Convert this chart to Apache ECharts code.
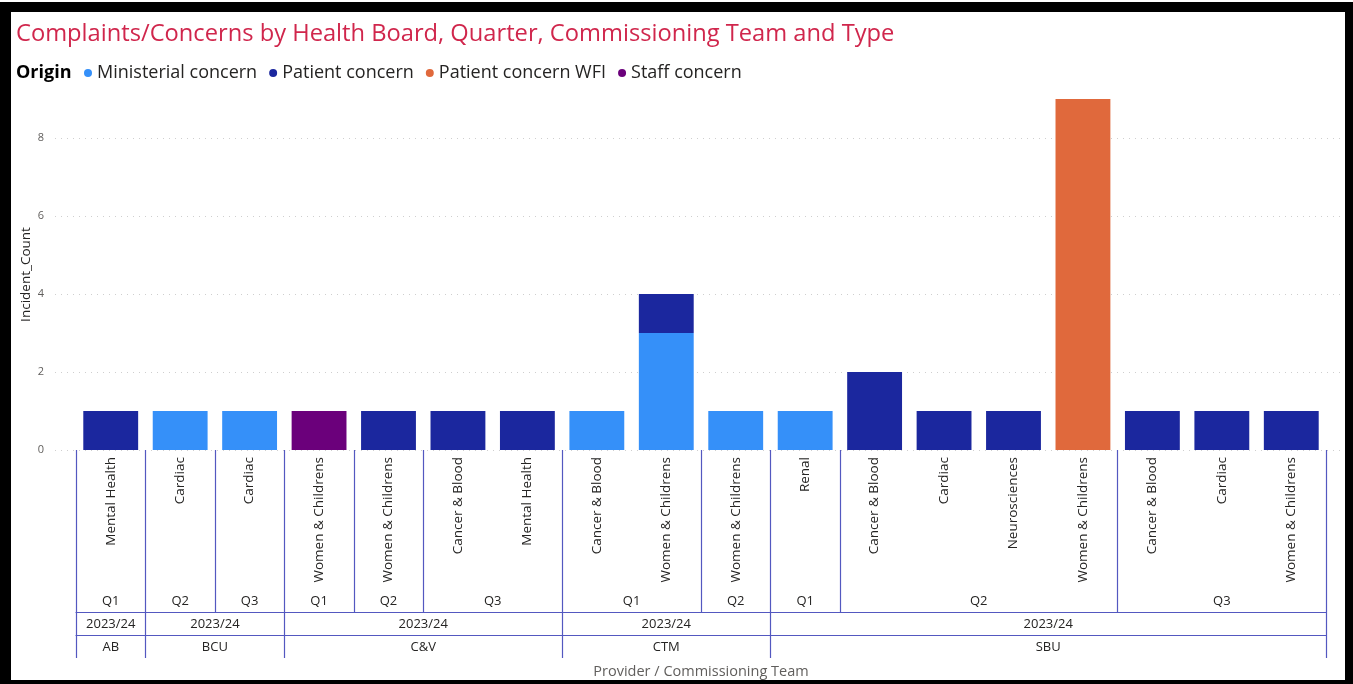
<!DOCTYPE html>
<html>
<head>
<meta charset="utf-8">
<script src="https://cdn.jsdelivr.net/npm/echarts@6/dist/echarts.min.js"></script>
<style>
  html, body { margin: 0; padding: 0; background: #fff; }
  #frame { position: absolute; left: 0; top: 2px; width: 1353px; height: 682px; background: #000; }
  #paper { position: absolute; left: 11px; top: 12px; width: 1334px; height: 668px; background: #fff; }
  #chart { position: absolute; left: 0; top: 0; width: 1353px; height: 684px; }
</style>
</head>
<body>
<div id="frame"></div>
<div id="paper"></div>
<div id="chart"></div>
<script>
// one entry per bar, left to right
const providers = ['AB', 'BCU', 'BCU', 'C&V', 'C&V', 'C&V', 'C&V', 'CTM', 'CTM', 'CTM',
    'SBU', 'SBU', 'SBU', 'SBU', 'SBU', 'SBU', 'SBU', 'SBU'];
const years = ['2023/24', '2023/24', '2023/24', '2023/24', '2023/24', '2023/24', '2023/24', '2023/24', '2023/24',
    '2023/24', '2023/24', '2023/24', '2023/24', '2023/24', '2023/24', '2023/24', '2023/24', '2023/24'];
const quarters = ['Q1', 'Q2', 'Q3', 'Q1', 'Q2', 'Q3', 'Q3', 'Q1', 'Q1', 'Q2',
    'Q1', 'Q2', 'Q2', 'Q2', 'Q2', 'Q3', 'Q3', 'Q3'];
const teams = ['Mental Health', 'Cardiac', 'Cardiac', 'Women & Childrens', 'Women & Childrens',
    'Cancer & Blood', 'Mental Health', 'Cancer & Blood', 'Women & Childrens', 'Women & Childrens',
    'Renal', 'Cancer & Blood', 'Cardiac', 'Neurosciences', 'Women & Childrens',
    'Cancer & Blood', 'Cardiac', 'Women & Childrens'];

const ministerial = [0, 1, 1, 0, 0, 0, 0, 1, 3, 1, 1, 0, 0, 0, 0, 0, 0, 0];
const patient = [1, 0, 0, 0, 1, 1, 1, 0, 1, 0, 0, 2, 1, 1, 0, 1, 1, 1];
const patientWFI = [0, 0, 0, 0, 0, 0, 0, 0, 0, 0, 0, 0, 0, 0, 9, 0, 0, 0];
const staff = [0, 0, 0, 1, 0, 0, 0, 0, 0, 0, 0, 0, 0, 0, 0, 0, 0, 0];

const yTicks = [0, 2, 4, 6, 8];

const FONT = "'Segoe UI', 'Open Sans', sans-serif";
const LINE = '#5358c0';

// group consecutive bars sharing the same key; return label slots and boundaries
// on a half-step axis (2 slots per bar, so group centres land on a point)
function groupAxis(keyFn, labelFn) {
    const n = teams.length;
    const data = new Array(2 * n + 1).fill('');
    const bounds = new Set();
    let start = 0;
    for (let i = 1; i <= n; i++) {
        if (i === n || keyFn(i) !== keyFn(start)) {
            data[start + i] = labelFn(start);
            bounds.add(2 * start);
            bounds.add(2 * i);
            start = i;
        }
    }
    return { data, bounds };
}

const qGroups = groupAxis(i => providers[i] + years[i] + quarters[i], i => quarters[i]);
const yGroups = groupAxis(i => providers[i] + years[i], i => years[i]);
const pGroups = groupAxis(i => providers[i], i => providers[i]);

function levelAxis(g, offset, tickLen, showLine) {
    return {
        type: 'category',
        gridIndex: 0,
        position: 'bottom',
        offset: offset,
        boundaryGap: false,
        data: g.data,
        axisLine: { show: showLine, lineStyle: { color: LINE, width: 1.2 } },
        axisTick: {
            show: true, inside: true, length: tickLen,
            interval: (i) => g.bounds.has(i),
            lineStyle: { color: LINE, width: 1.2 }
        },
        axisLabel: { inside: true, interval: 0, margin: 4, color: '#252423', fontSize: 13, fontFamily: FONT },
        splitLine: { show: false },
        silent: true
    };
}

const nz = arr => arr.map(v => (v === 0 ? null : v));

const chart = echarts.init(document.getElementById('chart'));
chart.setOption({
    animation: false,
    textStyle: { fontFamily: FONT },
    title: [{
        text: 'Complaints/Concerns by Health Board, Quarter, Commissioning Team and Type',
        left: 16, top: 22, padding: 0,
        textStyle: { color: '#d0264c', fontSize: 23.7, fontWeight: 'normal', fontFamily: FONT }
    }, {
        text: 'Origin',
        left: 16, top: 64, padding: 0,
        textStyle: { color: '#000', fontSize: 18, fontWeight: 'bold', fontFamily: FONT }
    }],
    legend: {
        left: 84, top: 64, padding: 0,
        icon: 'circle', itemWidth: 8, itemHeight: 8, itemGap: 12,
        textStyle: { color: '#252423', fontSize: 18, fontFamily: FONT },
        data: ['Ministerial concern', 'Patient concern', 'Patient concern WFI', 'Staff concern']
    },
    grid: [
        { left: 76, right: 27, top: 99, bottom: 234, outerBoundsMode: 'none' },
        { left: 55, right: 13, top: 99, bottom: 234, outerBoundsMode: 'none' }
    ],
    xAxis: [
        {
            type: 'category', gridIndex: 0, position: 'bottom', offset: 0,
            data: teams,
            axisLine: { show: false }, axisTick: { show: false },
            axisLabel: { rotate: 90, interval: 0, margin: 7, color: '#252423', fontSize: 13.5, fontFamily: FONT }
        },
        levelAxis(qGroups, 162, 162, true),
        levelAxis(yGroups, 185, 23, true),
        Object.assign(levelAxis(pGroups, 208, 23, false), {
            name: 'Provider / Commissioning Team',
            nameLocation: 'middle', nameGap: 4,
            nameTextStyle: { color: '#605e5c', fontSize: 14.5, fontFamily: FONT }
        }),
        { type: 'category', gridIndex: 1, data: teams, show: false }
    ],
    yAxis: [
        { type: 'value', gridIndex: 0, min: 0, max: 9, interval: 2, show: false, splitLine: { show: false } },
        {
            type: 'value', gridIndex: 1, min: yTicks[0], max: 9, interval: 2,
            name: 'Incident_Count', nameLocation: 'middle', nameGap: 22, nameMoveOverlap: false,
            nameTextStyle: { color: '#252423', fontSize: 13.5, fontFamily: FONT },
            axisLine: { show: false }, axisTick: { show: false },
            axisLabel: { color: '#605e5c', fontSize: 11, margin: 11, showMaxLabel: false, fontFamily: FONT },
            splitLine: { show: true, showMaxLine: false, lineStyle: { color: '#cfcfcf', type: [1, 5], width: 1 } }
        }
    ],
    series: [
        { name: 'Ministerial concern', type: 'bar', stack: 'total', xAxisIndex: 0, yAxisIndex: 0,
          barCategoryGap: '21%', itemStyle: { color: '#3590f9' }, data: nz(ministerial) },
        { name: 'Patient concern', type: 'bar', stack: 'total', xAxisIndex: 0, yAxisIndex: 0,
          itemStyle: { color: '#1b279e' }, data: nz(patient) },
        { name: 'Patient concern WFI', type: 'bar', stack: 'total', xAxisIndex: 0, yAxisIndex: 0,
          itemStyle: { color: '#e0693c' }, data: nz(patientWFI) },
        { name: 'Staff concern', type: 'bar', stack: 'total', xAxisIndex: 0, yAxisIndex: 0,
          itemStyle: { color: '#6b007b' }, data: nz(staff) }
    ]
});
</script>
</body>
</html>
